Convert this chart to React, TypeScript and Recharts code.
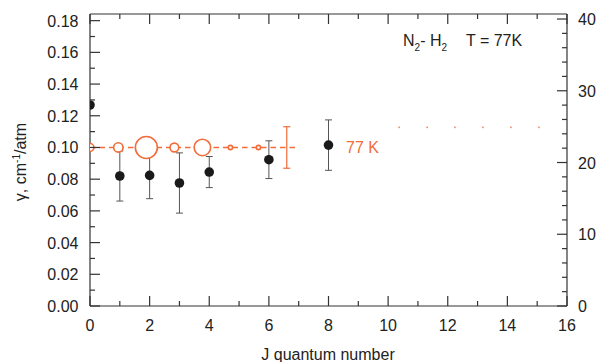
import React from 'react';
import { ComposedChart, Scatter, Line, XAxis, YAxis, ZAxis, ErrorBar } from 'recharts';

const ORANGE = '#f26c3a';
const AXIS = '#333';
const FONT = '"Liberation Sans", Arial, sans-serif';

// measured N2-H2 broadening
const jMeasured = [0, 1, 2, 3, 4, 6, 8];
const gammaMeasured = [0.1268, 0.082, 0.0824, 0.0776, 0.0845, 0.0923, 0.1015];
const gammaErr = [0, 0.0158, 0.0147, 0.019, 0.0098, 0.0119, 0.0159];

// 77 K values, circle size = weight
const jCalc = [0, 0.95, 1.89, 2.83, 3.77, 4.71, 5.65];
const gammaCalc = [0.1, 0.1, 0.1, 0.1, 0.1, 0.1, 0.1];
const weightCalc = [0.12, 0.17, 0.95, 0.15, 0.53, 0.035, 0.035];

// mean value with its error
const jMean = [6.6];
const gammaMean = [0.1];
const errMean = [0.0131];

// dashed 77 K level
const jLevel = [0, 6.94];
const gammaLevel = [0.1, 0.1];

// faint dotted trace on the right
const jTail = [10.37, 11.31, 12.24, 13.18, 14.12, 15.06];
const gammaTail = [0.1127, 0.1127, 0.1127, 0.1127, 0.1127, 0.1127];

// right-hand scale (no series plotted on it)
const rightScale = [0, 40];

const xTicks = [0, 1, 2, 3, 4, 5, 6, 7, 8, 9, 10, 11, 12, 13, 14, 15, 16];
const leftTicks = [0, 0.01, 0.02, 0.03, 0.04, 0.05, 0.06, 0.07, 0.08, 0.09, 0.1, 0.11, 0.12, 0.13, 0.14, 0.15, 0.16, 0.17, 0.18];
const rightTicks = [0, 2, 4, 6, 8, 10, 12, 14, 16, 18, 20, 22, 24, 26, 28, 30, 32, 34, 36, 38, 40];

const measured = jMeasured.map((j, i) => ({ j, g: gammaMeasured[i], e: gammaErr[i] }));
const calc = jCalc.map((j, i) => ({ j, g: gammaCalc[i], w: weightCalc[i] }));
const mean = jMean.map((j, i) => ({ j, g: gammaMean[i], e: errMean[i] }));
const level = jLevel.map((j, i) => ({ j, g: gammaLevel[i] }));
const tail = jTail.map((j, i) => ({ j, g: gammaTail[i] }));
const rightDummy = rightScale.map((r) => ({ j: 0, r }));

const labelStyle = { fontFamily: FONT, fontSize: 16, fill: '#222' };

const BottomTick = (props: any) => {
  const { x, y, payload } = props;
  const major = payload.value % 2 === 0;
  return (
    <g>
      <line x1={x} y1={y} x2={x} y2={y - (major ? 10 : 5)} stroke={AXIS} strokeWidth={1.2} />
      {major && (
        <text x={x} y={y + 25} textAnchor="middle" style={labelStyle}>{payload.value}</text>
      )}
    </g>
  );
};

const TopTick = (props: any) => {
  const { x, y, payload } = props;
  const major = payload.value % 2 === 0;
  return <line x1={x} y1={y} x2={x} y2={y + (major ? 10 : 5)} stroke={AXIS} strokeWidth={1.2} />;
};

const LeftTick = (props: any) => {
  const { x, y, payload } = props;
  const major = Math.round(payload.value * 100) % 2 === 0;
  return (
    <g>
      <line x1={x} y1={y} x2={x + (major ? 10 : 5)} y2={y} stroke={AXIS} strokeWidth={1.2} />
      {major && (
        <text x={x - 11.5} y={y + 6} textAnchor="end" style={labelStyle}>{payload.value.toFixed(2)}</text>
      )}
    </g>
  );
};

const RightTick = (props: any) => {
  const { x, y, payload } = props;
  const major = payload.value % 10 === 0;
  return (
    <g>
      <line x1={x} y1={y} x2={x - (major ? 10 : 5)} y2={y} stroke={AXIS} strokeWidth={1.2} />
      {major && (
        <text x={x + 11} y={y + 6} textAnchor="start" style={labelStyle}>{payload.value}</text>
      )}
    </g>
  );
};

const BlackDot = (props: any) => <circle cx={props.cx} cy={props.cy} r={4.8} fill="#1a1a1a" />;
const NoDot = () => <g />;
const TailDot = (props: any) => (
  <rect x={props.cx - 0.8} y={props.cy - 0.8} width={1.6} height={1.6} fill={ORANGE} opacity={0.8} />
);

export default function App() {
  return (
    <div style={{ position: 'absolute', left: 0, top: 0, width: 598, height: 362, background: '#fff' }}>
      <ComposedChart width={598} height={362} margin={{ top: 13, right: 30, bottom: 55, left: 89 }}>
        <XAxis
          dataKey="j" type="number" domain={[0, 16]} ticks={xTicks} interval={0} allowDataOverflow
          height={1} tickSize={0} tickMargin={0} tickLine={false}
          axisLine={{ stroke: AXIS, strokeWidth: 1.2 }} tick={BottomTick}
        />
        <XAxis
          xAxisId="top" orientation="top" dataKey="j" type="number" domain={[0, 16]} ticks={xTicks} interval={0}
          height={1} tickSize={0} tickMargin={0} tickLine={false}
          axisLine={{ stroke: AXIS, strokeWidth: 1.2 }} tick={TopTick}
        />
        <YAxis
          dataKey="g" type="number" domain={[0, 0.1842]} ticks={leftTicks} interval={0} allowDataOverflow
          width={1} tickSize={0} tickMargin={0} tickLine={false}
          axisLine={{ stroke: AXIS, strokeWidth: 1.2 }} tick={LeftTick}
        />
        <YAxis
          yAxisId="right" orientation="right" dataKey="r" type="number" domain={[0, 40.7]} ticks={rightTicks} interval={0}
          width={1} tickSize={0} tickMargin={0} tickLine={false}
          axisLine={{ stroke: AXIS, strokeWidth: 1.2 }} tick={RightTick}
        />
        <ZAxis zAxisId="w" dataKey="w" type="number" domain={[0, 1]} range={[0, 400]} />

        <Scatter
          data={rightDummy} xAxisId="top" yAxisId="right" dataKey="r" shape={NoDot} isAnimationActive={false}
        />
        <Scatter data={measured} dataKey="g" shape={BlackDot} isAnimationActive={false}>
          <ErrorBar dataKey="e" direction="y" width={3.5} stroke="#555" strokeWidth={1} />
        </Scatter>
        <Scatter data={mean} dataKey="g" shape={NoDot} isAnimationActive={false}>
          <ErrorBar dataKey="e" direction="y" width={3.5} stroke={ORANGE} strokeWidth={1.2} />
        </Scatter>
        <Scatter
          data={calc} dataKey="g" zAxisId="w" shape="circle"
          fill="#fff" stroke={ORANGE} strokeWidth={1.6} isAnimationActive={false}
        />
        <Line
          data={level} dataKey="g" stroke={ORANGE} strokeWidth={1.5} strokeDasharray="5.5 4"
          dot={false} activeDot={false} isAnimationActive={false}
        />
        <Scatter data={tail} dataKey="g" shape={TailDot} isAnimationActive={false} />
      </ComposedChart>

      <svg width={598} height={362} style={{ position: 'absolute', left: 0, top: 0, pointerEvents: 'none' }}>
        <text x={403} y={46} style={{ fontFamily: FONT, fontSize: 16, fill: '#222' }}>
          N<tspan dy={5} fontSize={10}>2</tspan>
          <tspan dy={-5}>- H</tspan>
          <tspan dy={5} fontSize={10}>2</tspan>
          <tspan dy={-5} x={466}>T = 77K</tspan>
        </text>
        <text x={346} y={153} style={{ fontFamily: FONT, fontSize: 16, fill: ORANGE }}>77 K</text>
        <text x={328} y={360} textAnchor="middle" style={{ fontFamily: FONT, fontSize: 16, fill: '#222' }}>
          J quantum number
        </text>
        <text
          x={26} y={162} textAnchor="middle" transform="rotate(-90 26 162)"
          style={{ fontFamily: FONT, fontSize: 16, fill: '#222' }}
        >
          γ, cm<tspan dy={-6} fontSize={10}>-1</tspan>
          <tspan dy={6}>/atm</tspan>
        </text>
      </svg>
    </div>
  );
}
